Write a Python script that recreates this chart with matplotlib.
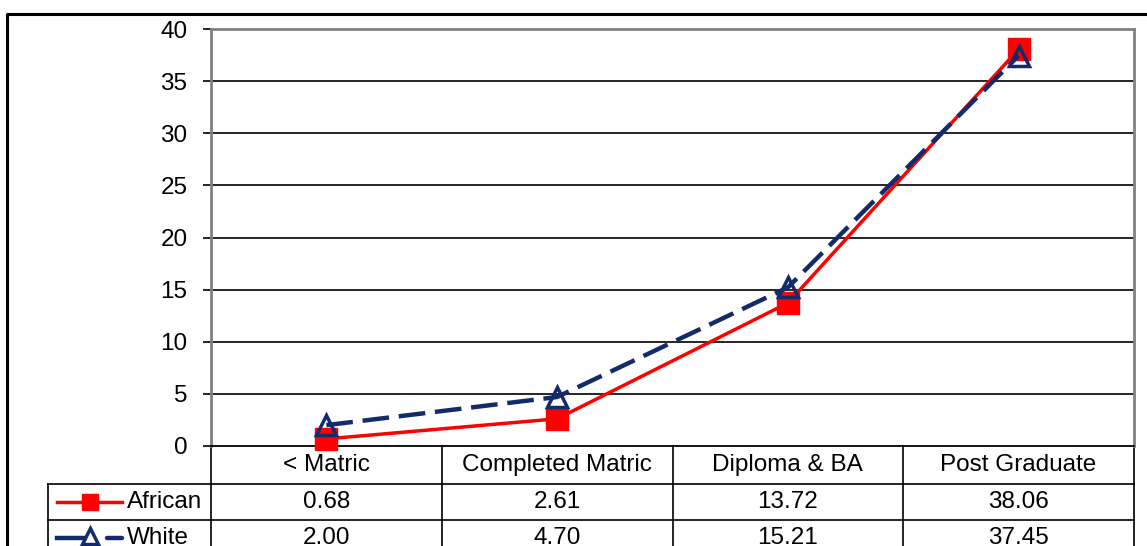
import matplotlib.pyplot as plt
from matplotlib.lines import Line2D
from matplotlib.transforms import blended_transform_factory

# dati
categorie = ["< Matric", "Completed Matric", "Diploma & BA", "Post Graduate"]
african = [0.68, 2.61, 13.72, 38.06]
white = [2.00, 4.70, 15.21, 37.45]
serie_nomi = ["African", "White"]
yticks = [0, 5, 10, 15, 20, 25, 30, 35, 40]

W, H = 1147, 546
ROSSO = "#FF0000"
BLU = "#132A6B"
plt.rcParams['font.family'] = ['Liberation Sans', 'DejaVu Sans']
FS = 17.5


def px(x, y):
    # pixel (origine in alto a sinistra) -> frazione della figura
    return x / W, 1 - y / H


def linea(fig, xs, ys, **kw):
    pts = [px(x, y) for x, y in zip(xs, ys)]
    fig.add_artist(Line2D([p[0] for p in pts], [p[1] for p in pts],
                          transform=fig.transFigure, **kw))


fig = plt.figure(figsize=(W / 100, H / 100), dpi=100)
ax = fig.add_axes([211 / W, (H - 446) / H, 923 / W, 417 / H])

x = list(range(len(categorie)))
ax.plot(x, african, color=ROSSO, lw=2.5, marker='s', ms=15.5,
        mfc=ROSSO, mec=ROSSO, zorder=3, clip_on=False)
ax.plot(x, white, color=BLU, lw=3.2, dashes=(6, 2.2), marker='^', ms=15,
        mfc='none', mec=BLU, mew=2.5, zorder=4, clip_on=False)

ax.set_xlim(-0.5, len(categorie) - 0.5)
ax.set_ylim(0, 40)
ax.set_yticks(yticks)
ax.set_yticklabels([str(v) for v in yticks], fontsize=FS)
ax.set_xticks([])
for v in yticks[1:-1]:
    ax.axhline(v, color='black', lw=1.2, zorder=1)
for lato in ['left', 'top', 'right']:
    ax.spines[lato].set_color('#808080')
    ax.spines[lato].set_linewidth(2)
ax.spines['bottom'].set_color('black')
ax.spines['bottom'].set_linewidth(1.3)
ax.tick_params(axis='y', length=6, width=1.2, color='black', pad=11)

# tabella dati sotto l'asse
tr = blended_transform_factory(ax.transData, ax.transAxes)
h_px = 417
def yax(ypix):
    return -(ypix - 446) / h_px

for i, c in enumerate(categorie):
    ax.text(i, yax(465), c, transform=tr, ha='center', va='center',
            fontsize=FS, clip_on=False)
    ax.text(i, yax(502), f"{african[i]:.2f}", transform=tr, ha='center',
            va='center', fontsize=FS, clip_on=False)
    ax.text(i, yax(538), f"{white[i]:.2f}", transform=tr, ha='center',
            va='center', fontsize=FS, clip_on=False)

for xb in [-0.5, 0.5, 1.5, 2.5, 3.5]:
    ax.plot([xb, xb], [0, yax(560)], transform=tr, color='black', lw=1.2,
            clip_on=False)
for yb in [484, 520]:
    linea(fig, [48, 1134], [yb, yb], color='black', lw=1.2)
linea(fig, [48, 48], [484, 560], color='black', lw=1.2)

# chiavi della legenda nella tabella
linea(fig, [57, 122], [502, 502], color=ROSSO, lw=2.5)
linea(fig, [90], [502], color=ROSSO, marker='s', ms=11, lw=0)
linea(fig, [57, 84], [538, 538], color=BLU, lw=3.2)
linea(fig, [107, 122], [538, 538], color=BLU, lw=3.2, solid_capstyle='round')
linea(fig, [90], [536], color=BLU, marker='^', ms=12, mfc='none', mew=2.5, lw=0)
fig.text(*px(127, 502), serie_nomi[0], ha='left', va='center', fontsize=FS)
fig.text(*px(127, 538), serie_nomi[1], ha='left', va='center', fontsize=FS)

# cornice esterna
linea(fig, [7, 7, 1160], [560, 14, 14], color='black', lw=2.2)

fig.savefig("out.png", dpi=100)
